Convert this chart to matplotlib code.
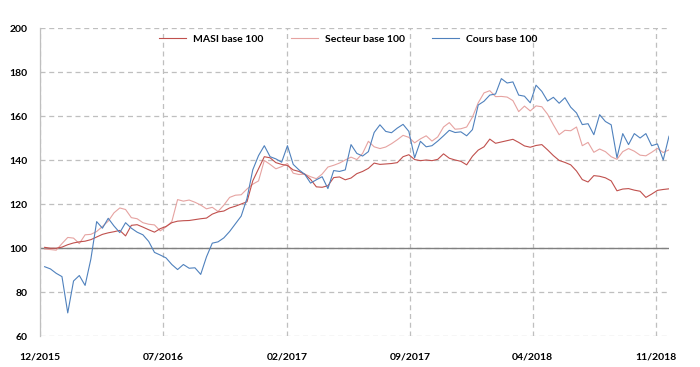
import pandas as pd
import matplotlib
matplotlib.use("Agg")
import matplotlib.pyplot as plt
import matplotlib.dates as mdates

# -----------------------------
# Series, base 100 (one reading every 10 days)
# -----------------------------
start_date = "2015-12-09"

masi = [
    100.3, 99.9, 99.9, 100.4, 101.5, 102.3, 102.8, 103.1, 103.8, 105.0,
    106.2, 106.9, 107.4, 108.0, 105.5, 110.3, 110.6, 109.5, 108.3, 107.2,
    108.8, 109.8, 111.5, 112.2, 112.4, 112.5, 112.9, 113.3, 113.6, 115.4,
    116.4, 116.8, 118.2, 119.0, 120.0, 121.0, 130.5, 136.0, 141.5, 141.0,
    138.8, 138.0, 137.5, 135.5, 134.8, 133.5, 131.2, 127.8, 127.6, 128.3,
    132.0, 132.3, 131.0, 131.8, 133.8, 134.8, 136.2, 138.6, 138.0, 138.2,
    138.4, 138.8, 141.5, 142.4, 140.2, 139.7, 140.0, 139.7, 140.3, 142.8,
    140.8, 140.0, 139.4, 137.8, 141.7, 144.5, 146.0, 149.5, 147.6, 148.2,
    148.8, 149.4, 148.0, 146.4, 145.8, 146.6, 147.0, 144.6, 142.0, 139.8,
    138.9, 137.8, 135.0, 131.1, 130.0, 132.9, 132.6, 131.9, 130.5, 126.0,
    126.8, 127.0, 126.3, 125.8, 123.0, 124.5, 126.2, 126.6, 126.9,
]

secteur = [
    99.5, 99.3, 99.0, 102.0, 104.8, 104.5, 102.0, 106.0, 106.2, 107.5,
    109.8, 112.2, 116.0, 118.2, 117.5, 113.8, 113.3, 111.5, 110.8, 110.5,
    107.8, 109.6, 112.0, 122.0, 121.3, 121.8, 120.8, 119.5, 117.8, 118.5,
    116.6, 119.5, 123.0, 124.0, 124.2, 126.8, 129.0, 130.5, 139.8, 138.0,
    136.0, 137.0, 138.4, 134.0, 133.4, 133.6, 132.4, 131.5, 133.6, 136.8,
    137.6, 138.6, 140.0, 141.3, 140.2, 143.0, 148.5, 146.0, 145.2, 145.9,
    147.4, 149.2, 151.2, 150.3, 147.8, 149.6, 151.0, 148.6, 150.5, 155.0,
    157.0, 154.0, 154.2, 155.0, 159.5, 166.0, 170.5, 171.5, 168.8, 168.9,
    168.6, 167.0, 162.0, 164.5, 162.3, 164.6, 164.2, 160.8, 156.0, 151.5,
    153.5, 153.3, 155.0, 146.5, 148.0, 143.5, 145.0, 143.8, 141.5, 140.3,
    143.8, 145.2, 144.0, 142.2, 141.9, 143.5, 145.3, 143.4, 144.6,
]

cours = [
    91.5, 90.5, 88.5, 87.0, 70.5, 85.0, 87.5, 83.0, 95.0, 112.0,
    109.0, 113.5, 110.0, 107.0, 111.5, 109.0, 107.2, 106.0, 103.0, 98.0,
    96.8, 95.5, 92.5, 90.2, 92.5, 90.8, 91.0, 88.0, 96.0, 102.2,
    102.8, 104.6, 107.5, 111.0, 114.5, 122.5, 135.5, 142.0, 146.5, 141.5,
    140.5, 139.0, 146.5, 138.0, 135.5, 133.5, 129.5, 131.0, 132.4, 127.0,
    135.2, 134.8, 135.5, 147.0, 143.0, 141.8, 143.8, 152.5, 156.0, 153.0,
    152.4, 154.5, 156.2, 153.0, 141.0, 148.5, 146.0, 146.5, 148.6, 151.0,
    153.5, 152.5, 152.8, 151.0, 153.8, 165.0, 166.7, 169.5, 170.0, 177.0,
    175.0, 175.5, 169.5, 169.0, 166.0, 174.0, 171.2, 166.8, 168.5, 165.8,
    168.3, 164.0, 161.4, 156.1, 156.5, 151.5, 160.6, 157.5, 156.0, 141.0,
    152.0, 147.0, 152.0, 150.0, 152.0, 146.5, 147.3, 140.0, 150.8,
]

tick_dates = ["2015-12-01", "2016-07-01", "2017-02-01",
              "2017-09-01", "2018-04-01", "2018-11-01"]

dates = pd.date_range(start_date, periods=len(masi), freq="10D")
df = pd.DataFrame({"MASI": masi, "Secteur": secteur, "Cours": cours}, index=dates)

# -----------------------------
# Plot
# -----------------------------
plt.rcParams["font.family"] = ["Lato", "DejaVu Sans"]

fig = plt.figure(figsize=(7, 3.67), dpi=100)
ax = fig.add_axes([40 / 700, 31 / 367, 629 / 700, 308 / 367])

grid_color = "#BFBFBF"
ax.plot(df.index, df["MASI"], color="#C0504D", lw=0.8, label="MASI base 100", zorder=4)
ax.plot(df.index, df["Secteur"], color="#E6A3A1", lw=0.8, label="Secteur base 100", zorder=3)
ax.plot(df.index, df["Cours"], color="#4F81BD", lw=0.8, label="Cours base 100", zorder=5)

# base 100 reference line
ax.axhline(100, color="#808080", lw=1.0, zorder=2)

ax.set_ylim(60, 200)
ax.set_yticks(range(60, 201, 20))
ax.set_xlim(pd.Timestamp("2015-12-01"), dates[-1])
ax.set_xticks(pd.to_datetime(tick_dates))
ax.xaxis.set_major_formatter(mdates.DateFormatter("%m/%Y"))

ax.grid(True, color=grid_color, linestyle=(0, (4, 3)), lw=0.9)
ax.set_axisbelow(True)
for side in ["top", "right", "bottom"]:
    ax.spines[side].set_visible(False)
ax.spines["left"].set_color(grid_color)
ax.spines["left"].set_linewidth(0.9)

ax.tick_params(axis="both", length=0, labelsize=7.5)
ax.tick_params(axis="y", pad=9)
ax.tick_params(axis="x", pad=12)
for lbl in ax.get_xticklabels() + ax.get_yticklabels():
    lbl.set_fontweight("bold")

ax.legend(loc="upper center", bbox_to_anchor=(0.49, 1.0), ncol=3, frameon=False,
          prop={"size": 7.5, "weight": "bold"}, handlelength=2.6,
          handletextpad=0.7, columnspacing=2.6, borderaxespad=0.2)

fig.savefig("out.png", dpi=100)
